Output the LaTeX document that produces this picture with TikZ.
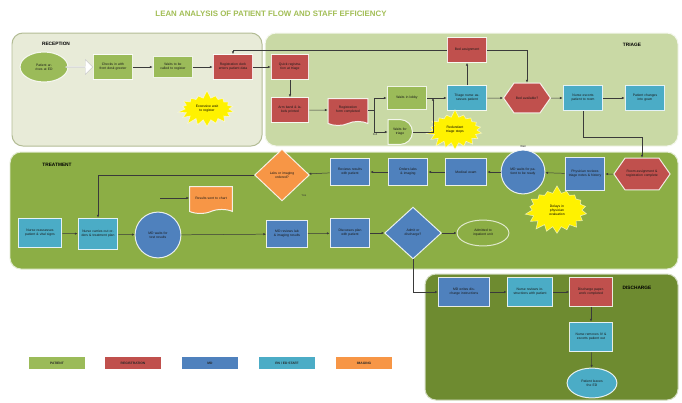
\documentclass[tikz,border=0pt]{standalone}
\usepackage{fontspec}
\setmainfont{Liberation Sans}
\usetikzlibrary{shapes.geometric,shapes.symbols,shapes.misc,shapes.arrows,arrows.meta}

% role colours
\definecolor{cPat}{HTML}{9BBB59}
\definecolor{cReg}{HTML}{C0504D}
\definecolor{cMD}{HTML}{4F81BD}
\definecolor{cRN}{HTML}{4BACC6}
\definecolor{cImg}{HTML}{F79646}
% swim-lane panels
\definecolor{panelRec}{HTML}{E8EBD8}
\definecolor{panelRecEdge}{HTML}{B3BC95}
\definecolor{panelTri}{HTML}{C9D9A5}
\definecolor{panelTrt}{HTML}{8CAE45}
\definecolor{panelDis}{HTML}{6E8B30}
\definecolor{titleGreen}{HTML}{A2BE55}
\definecolor{wire}{HTML}{3A3A3A}
\definecolor{burstFill}{HTML}{FFF200}

\newcommand{\nodefont}{\fontsize{3.4}{4}\selectfont}
\newcommand{\lanefont}{\fontsize{4.8}{5.5}\selectfont\bfseries}

\tikzset{
  lane/.style={rounded corners=11pt, line width=1pt},
  lanelabel/.style={font=\lanefont, text=black, inner sep=0pt},
  box/.style={rectangle, draw=white, draw opacity=0.85, line width=1pt,
    align=center, font=\nodefont, text=black!90, inner sep=1pt,
    minimum width=40pt, minimum height=25pt, text width=34pt},
  pat/.style={fill=cPat},
  regn/.style={fill=cReg},
  mdn/.style={fill=cMD},
  rnn/.style={fill=cRN},
  imgn/.style={fill=cImg},
  oval/.style={box, ellipse, text width=30pt},
  rnd/.style={box, circle, minimum size=45pt, text width=28pt},
  decide/.style={box, diamond, text width=26pt},
  hexa/.style={box, signal, signal to=east and west, signal pointer angle=110},
  docu/.style={box, tape, tape bend top=none, tape bend height=4pt},
  delay/.style={box, rounded rectangle, rounded rectangle left arc=none},
  burst/.style={starburst, starburst points=18, starburst point height=8pt,
    random starburst=7,
    fill=burstFill, draw=white, draw opacity=0.6, line width=0.6pt,
    align=center, font=\nodefont, text=black, inner sep=0pt, text width=26pt},
  flow/.style={draw=wire, line width=0.5pt, -{Latex[length=2.6pt,width=2.4pt]}},
  tag/.style={font=\fontsize{2.8}{3.2}\selectfont, text=black!80, inner sep=0pt},
  key/.style={rectangle, draw=white, draw opacity=0.6, line width=0.6pt,
    minimum width=57pt, minimum height=13pt, inner sep=0pt,
    font=\fontsize{3.3}{4}\selectfont\bfseries, text=black!85}
}

\begin{document}
\begin{tikzpicture}[x=1bp,y=-1bp]
\useasboundingbox (0,0) rectangle (682,402);
\fill[white] (0,0) rectangle (682,402);

% title
\node[font=\fontsize{7.9}{8.5}\selectfont\bfseries, text=titleGreen] (title) at (271,14)
  {LEAN ANALYSIS OF PATIENT FLOW AND STAFF EFFICIENCY};

% swim lanes
\draw[lane, fill=panelRec, draw=panelRecEdge] (12,33) rectangle (262,146);
\draw[lane, fill=panelTri, draw=white!80!panelTri] (265,33) rectangle (678,146);
\draw[lane, fill=panelTrt, draw=white!75!panelTrt] (10,152) rectangle (678,269);
\draw[lane, fill=panelDis, draw=white!70!panelDis] (425,274) rectangle (678,400);

\node[lanelabel] (lRec) at (56,44) {RECEPTION};
\node[lanelabel] (lTri) at (632,45) {TRIAGE};
\node[lanelabel] (lTrt) at (57,165) {TREATMENT};
\node[lanelabel] (lDis) at (637,288) {DISCHARGE};

% ---------------- reception ----------------
\node[oval, pat, minimum width=48pt, minimum height=30pt] (arrive) at (44,67) {Patient arrives at ED};
\node[single arrow, fill=white, draw=black!20, line width=0.4pt, minimum height=27pt,
      minimum width=15pt, single arrow head extend=2.5pt, inner sep=0pt] (walkin) at (79,67) {};
\node[box, pat] (greet) at (113,67) {Checks in with front desk greeter};
\node[box, pat, minimum height=22pt] (waitreg) at (173,67) {Waits to be called to register};
\node[box, regn] (reg) at (233,67) {Registration clerk enters patient data};
\node[burst, minimum width=60pt, minimum height=38pt] (b1) at (207,109) {Excessive wait to register};

\draw[flow] (greet) -- (waitreg);
\draw[flow] (waitreg) -- (reg);

% ---------------- triage ----------------
\node[box, regn, minimum width=38pt, text width=32pt] (quick) at (290,67) {Quick registration at triage};
\node[box, regn, minimum width=38pt, text width=32pt] (band) at (290,110) {Arm band \& labels printed};
\node[docu, regn, minimum height=27pt] (form) at (348,110) {Registration form completed};
\node[box, pat, minimum height=24pt] (lobby) at (407,98) {Waits in lobby};
\node[delay, pat, minimum width=25pt, minimum height=25pt, text width=18pt] (hold) at (400,132) {Waits for triage};
\node[tag] (holdtag) at (375,134) {Full};
\node[box, rnn] (assess) at (467,98) {Triage nurse assesses patient};
\node[box, regn] (bed) at (467,50) {Bed assignment};
\node[hexa, regn, minimum width=41pt, minimum height=30pt, text width=24pt] (avail) at (527,98) {Bed available?};
\node[box, rnn, minimum height=26pt] (escort) at (583,98) {Nurse escorts patient to room};
\node[box, rnn, minimum height=26pt] (gown) at (645,98) {Patient changes into gown};
\coordinate (merge) at (433,98);
\node[burst, minimum width=60pt, minimum height=42pt] (b2) at (455,130) {Redundant triage steps};

\draw[flow] (reg) -- (quick);
\draw[flow] (quick) -- (band);
\draw[flow] (band) -- (form);
\draw[flow] (form.east) -- ++(6,0) coordinate (fork) |- (lobby.west);
\draw[flow] (fork) |- (hold.west);
\draw[flow] (hold.east) -| (merge);
\draw[flow] (lobby) -- (assess);
\draw[flow] (assess) -- (bed);
\draw[flow] (bed.west) -| (reg.north);
\draw[flow] (bed.east) -| (avail.north);
\draw[flow] (assess) -- (avail);
\draw[flow] (avail) -- (escort);
\draw[flow] (escort) -- (gown);

% ---------------- treatment ----------------
\node[decide, imgn, minimum width=55pt, minimum height=52pt] (order) at (282,175) {Labs or imaging ordered?};
\node[tag] (ordtag) at (304,196) {Yes};
\node[box, mdn, minimum height=27pt] (tr1) at (350,172) {Reviews results with patient};
\node[box, mdn, minimum height=27pt] (tr2) at (408,172) {Orders labs \& imaging};
\node[box, mdn, minimum width=42pt, minimum height=27pt] (tr3) at (466,172) {Medical exam};
\node[rnd, mdn, minimum size=44pt] (mdwait) at (523,172) {MD waits for patient to be ready};
\node[tag] (mdtag) at (523,146) {Wait};
\node[box, mdn, minimum height=34pt] (tr4) at (585,174) {Physician reviews triage notes \& history};
\node[hexa, regn, minimum width=50pt, minimum height=32pt, text width=32pt] (room) at (642,174) {Room assignment \& registration complete};
\node[burst, minimum width=66pt, minimum height=50pt] (b3) at (557,210) {Delays in physician evaluation};

\node[box, rnn, minimum width=44pt, minimum height=30pt, text width=38pt] (reass) at (40,233) {Nurse reassesses patient \& vital signs};
\node[box, rnn, minimum height=32pt] (carry) at (98,234) {Nurse carries out orders \& treatment plan};
\node[rnd, mdn, minimum size=46pt] (waitres) at (158,235) {MD waits for test results};
\node[docu, imgn, minimum width=43pt, minimum height=27pt] (chart) at (211,198) {Results sent to chart};
\coordinate (chartin) at (160,198);
\node[box, mdn, minimum width=41pt, minimum height=28pt] (rev) at (287,234) {MD reviews lab \& imaging results};
\node[box, mdn, minimum height=29pt] (plan) at (350,233) {Discusses plan with patient};
\node[decide, mdn, minimum width=57pt, minimum height=52pt] (dispo) at (413,233) {Admit or discharge?};
\node[oval, fill=panelTrt, draw=white!85!panelTrt, minimum width=52pt, minimum height=26pt] (admit) at (483,233) {Admitted to inpatient unit};

\draw[flow] (escort.south) -- ++(0,26) -| (room.north);
\draw[flow] (room) -- (tr4);
\draw[flow] (tr4) -- (mdwait);
\draw[flow] (mdwait) -- (tr3);
\draw[flow] (tr3) -- (tr2);
\draw[flow] (tr2) -- (tr1);
\draw[flow] (tr1) -- (order);
\draw[flow] (order.west) -| (carry.north);
\draw[flow] (reass) -- (carry);
\draw[flow] (carry) -- (waitres);
\draw[flow] (waitres) -- (rev);
\draw[flow] (chartin) -- (chart.west);
\draw[flow] (rev) -- (plan);
\draw[flow] (plan) -- (dispo);
\draw[flow] (dispo) -- (admit);

% ---------------- discharge ----------------
\node[box, mdn, minimum width=52pt, minimum height=29pt, text width=44pt] (mdd) at (464,292) {MD writes discharge instructions};
\node[box, rnn, minimum width=46pt, minimum height=29pt, text width=40pt] (teach) at (530,292) {Nurse reviews instructions with patient};
\node[box, regn, minimum width=43pt, minimum height=29pt, text width=37pt] (paper) at (591,292) {Discharge paperwork completed};
\node[box, rnn, minimum width=43pt, minimum height=30pt, text width=37pt] (iv) at (591,337) {Nurse removes IV \& escorts patient out};
\node[oval, rnn, minimum width=50pt, minimum height=30pt] (leave) at (592,383) {Patient leaves the ED};

\draw[flow] (dispo.south) |- (mdd.west);
\draw[flow] (mdd) -- (teach);
\draw[flow] (teach) -- (paper);
\draw[flow] (paper) -- (iv);
\draw[flow] (iv) -- (leave);

% ---------------- legend ----------------
\node[key, pat] (kPat) at (57,363) {PATIENT};
\node[key, regn] (kReg) at (133,363) {REGISTRATION};
\node[key, mdn] (kMD) at (210,363) {MD};
\node[key, rnn] (kRN) at (287,363) {RN / ED STAFF};
\node[key, imgn] (kImg) at (364,363) {IMAGING};
\end{tikzpicture}
\end{document}
